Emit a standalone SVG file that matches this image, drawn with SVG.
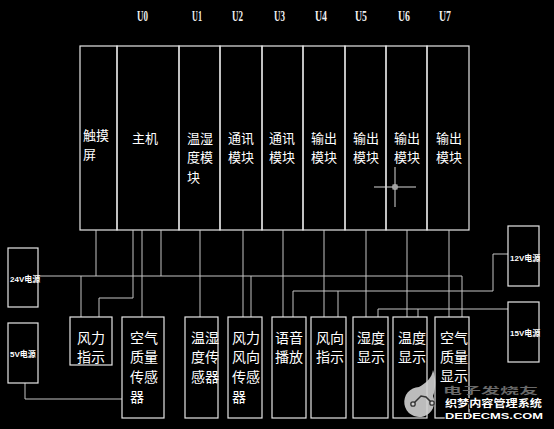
<svg xmlns="http://www.w3.org/2000/svg" width="554" height="429" viewBox="0 0 554 429">
<style>
.bg{fill:#000}
.box{fill:none;stroke:#e6e6e6;stroke-width:1.2}
.cn{fill:none;stroke:#c4c4c4;stroke-width:1}
.u{font-family:"Liberation Serif",serif;font-size:15px;fill:#f0f0f0;font-weight:bold}
.t{font-family:"Noto Sans CJK SC","Noto Sans CJK JP",sans-serif;font-size:13px;fill:#fff}
.b{font-family:"Noto Sans CJK SC","Noto Sans CJK JP",sans-serif;font-size:14px;fill:#fff}
.p{font-family:"Liberation Sans","Noto Sans CJK SC",sans-serif;font-size:8px;fill:#fff;font-weight:bold}
</style>
<rect class="bg" x="0" y="0" width="554" height="429"/>

<g id="labels">
<text class="u" x="137" y="21" textLength="11" lengthAdjust="spacingAndGlyphs">U0</text>
<text class="u" x="192" y="21" textLength="10" lengthAdjust="spacingAndGlyphs">U1</text>
<text class="u" x="232" y="21" textLength="11" lengthAdjust="spacingAndGlyphs">U2</text>
<text class="u" x="274" y="21" textLength="11" lengthAdjust="spacingAndGlyphs">U3</text>
<text class="u" x="315" y="21" textLength="12" lengthAdjust="spacingAndGlyphs">U4</text>
<text class="u" x="355" y="21" textLength="12" lengthAdjust="spacingAndGlyphs">U5</text>
<text class="u" x="398" y="21" textLength="12" lengthAdjust="spacingAndGlyphs">U6</text>
<text class="u" x="439" y="21" textLength="12" lengthAdjust="spacingAndGlyphs">U7</text>
</g>

<g id="touch">
<rect class="box" x="80" y="46" width="37" height="184"/>
<text class="t" x="83" y="140">触摸</text>
<text class="t" x="83" y="159">屏</text>
</g>
<g id="U0">
<rect class="box" x="117" y="46" width="62" height="184"/>
<text class="t" x="132" y="143">主机</text>
</g>
<g id="U1">
<rect class="box" x="179" y="46" width="41" height="184"/>
<text class="t" x="187" y="143">温湿</text>
<text class="t" x="187" y="162">度模</text>
<text class="t" x="187" y="182">块</text>
</g>
<g id="U2">
<rect class="box" x="220" y="46" width="42" height="184"/>
<text class="t" x="228" y="143">通讯</text>
<text class="t" x="228" y="162">模块</text>
</g>
<g id="U3">
<rect class="box" x="262" y="46" width="41" height="184"/>
<text class="t" x="269" y="143">通讯</text>
<text class="t" x="269" y="162">模块</text>
</g>
<g id="U4">
<rect class="box" x="303" y="46" width="42" height="184"/>
<text class="t" x="311" y="143">输出</text>
<text class="t" x="311" y="162">模块</text>
</g>
<g id="U5">
<rect class="box" x="345" y="46" width="41" height="184"/>
<text class="t" x="353" y="143">输出</text>
<text class="t" x="353" y="162">模块</text>
</g>
<g id="U6">
<rect class="box" x="386" y="46" width="41" height="184"/>
<text class="t" x="394" y="143">输出</text>
<text class="t" x="394" y="162">模块</text>
</g>
<g id="U7">
<rect class="box" x="427" y="46" width="42" height="184"/>
<text class="t" x="436" y="143">输出</text>
<text class="t" x="436" y="162">模块</text>
</g>

<g id="cursor" stroke="#d8d8d8" stroke-width="1" fill="none">
<path d="M395 167V207M374 187H416"/>
<rect x="393" y="185" width="4" height="4"/>
</g>

<g id="connectors">
<path class="cn" d="M38 276H462V317"/>
<path class="cn" d="M96 230V276"/>
<path class="cn" d="M81 276V317"/>
<path class="cn" d="M133 230V298H99V317"/>
<path class="cn" d="M142 230V317"/>
<path class="cn" d="M161 230V276"/>
<path class="cn" d="M200 230V317"/>
<path class="cn" d="M243 230V317"/>
<path class="cn" d="M251 276V317"/>
<path class="cn" d="M283 230V317"/>
<path class="cn" d="M324 230V317"/>
<path class="cn" d="M366 230V317"/>
<path class="cn" d="M407 230V317"/>
<path class="cn" d="M449 230V317"/>
<path class="cn" d="M508 254H493V291H293V317"/>
<path class="cn" d="M338 291V317"/>
<path class="cn" d="M508 309H378V317"/>
<path class="cn" d="M418 309V317"/>
<path class="cn" d="M25 383V399H122"/>
</g>

<g id="p24">
<rect class="box" x="8" y="248" width="30" height="59"/>
<text class="p" x="10" y="282">24V电源</text>
</g>
<g id="p5">
<rect class="box" x="8" y="323" width="30" height="60"/>
<text class="p" x="10" y="357">5V电源</text>
</g>
<g id="p12">
<rect class="box" x="508" y="226" width="31" height="60"/>
<text class="p" x="510" y="261">12V电源</text>
</g>
<g id="p15">
<rect class="box" x="508" y="302" width="31" height="60"/>
<text class="p" x="510" y="336">15V电源</text>
</g>

<g id="windInd">
<rect class="box" x="70" y="317" width="42" height="48"/>
<text class="b" x="77" y="343">风力</text>
<text class="b" x="77" y="362">指示</text>
</g>
<g id="airSensor">
<rect class="box" x="122" y="317" width="42" height="101"/>
<text class="b" x="130" y="343">空气</text>
<text class="b" x="130" y="362">质量</text>
<text class="b" x="130" y="382">传感</text>
<text class="b" x="130" y="402">器</text>
</g>
<g id="thSensor">
<rect class="box" x="185" y="317" width="33" height="101"/>
<text class="b" x="191" y="343">温湿</text>
<text class="b" x="191" y="362">度传</text>
<text class="b" x="191" y="382">感器</text>
</g>
<g id="windSensor">
<rect class="box" x="228" y="317" width="34" height="101"/>
<text class="b" x="232" y="343">风力</text>
<text class="b" x="232" y="362">风向</text>
<text class="b" x="232" y="382">传感</text>
<text class="b" x="232" y="402">器</text>
</g>
<g id="voice">
<rect class="box" x="272" y="317" width="34" height="101"/>
<text class="b" x="275" y="343">语音</text>
<text class="b" x="275" y="362">播放</text>
</g>
<g id="windDir">
<rect class="box" x="311" y="317" width="35" height="101"/>
<text class="b" x="316" y="343">风向</text>
<text class="b" x="316" y="362">指示</text>
</g>
<g id="humDisp">
<rect class="box" x="353" y="317" width="35" height="101"/>
<text class="b" x="357" y="343">湿度</text>
<text class="b" x="357" y="362">显示</text>
</g>
<g id="tempDisp">
<rect class="box" x="393" y="317" width="34" height="101"/>
<text class="b" x="398" y="343">温度</text>
<text class="b" x="398" y="362">显示</text>
</g>
<g id="airDisp">
<rect class="box" x="435" y="317" width="34" height="101"/>
<text class="b" x="440" y="343">空气</text>
<text class="b" x="440" y="362">质量</text>
<text class="b" x="440" y="381">显示</text>
</g>

<g id="watermark">
<path d="M419 387 C426 383 432 378 433 370 C436 378 436 388 433 396 A15 15 0 1 1 419 387 Z" fill="#d0d0d0" opacity="0.9"/>
<path d="M413 404 L421 396 L426 397 L432 403" fill="none" stroke="#333" stroke-width="1.5"/>
<circle cx="413" cy="404" r="2.2" fill="#d0d0d0" stroke="#333" stroke-width="1.3"/>
<circle cx="432" cy="403" r="2.2" fill="#d0d0d0" stroke="#333" stroke-width="1.3"/>
<text x="443" y="394" font-family="Noto Sans CJK SC,sans-serif" font-size="9" font-weight="bold" fill="#6a6a6a" textLength="95" lengthAdjust="spacingAndGlyphs">电子发烧友</text>
<text x="445" y="407" font-family="Noto Sans CJK SC,sans-serif" font-size="10" font-weight="bold" fill="#fff" stroke="#000" stroke-width="2" paint-order="stroke" textLength="97" lengthAdjust="spacingAndGlyphs">织梦内容管理系统</text>
<text x="445" y="419" font-family="Liberation Sans,sans-serif" font-size="9" font-weight="bold" fill="#fff" stroke="#000" stroke-width="1.5" paint-order="stroke" textLength="98" lengthAdjust="spacingAndGlyphs">DEDECMS.COM</text>
</g>
</svg>
